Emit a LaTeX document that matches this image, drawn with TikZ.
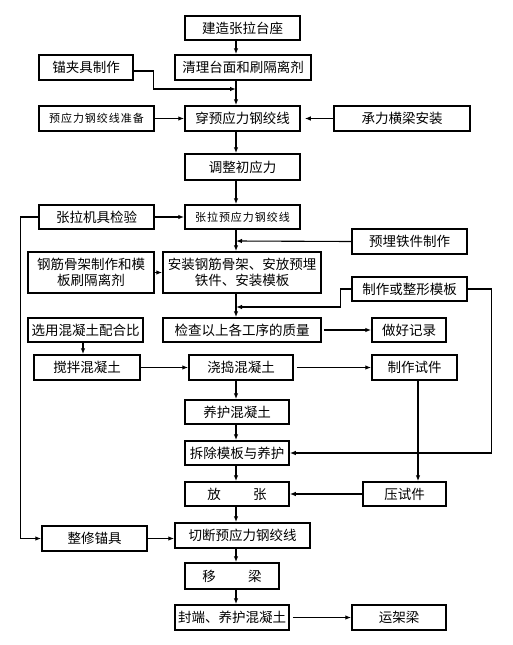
\documentclass[tikz,border=0pt]{standalone}
\usepackage{fontspec}
\newfontfamily\cjk{Noto Sans CJK SC}
\newfontfamily\cjkwide[LetterSpace=9]{Noto Sans CJK SC}
\usepackage{tikz}
\usetikzlibrary{arrows.meta}
\usetikzlibrary{positioning}

\begin{document}
\begin{tikzpicture}[x=1pt,y=-1pt,
		box/.style={draw,line width=1.5pt,inner sep=0pt,align=center,
			font=\cjk\fontsize{13.5}{16}\selectfont},
		thin box/.style={box,font=\cjkwide\fontsize{11}{14}\selectfont},
		arr/.style={line width=1.1pt,-{Latex[length=6pt,width=4.5pt]}},
		link/.style={line width=1.1pt}]
			
			\useasboundingbox (0,0) rectangle (512,645);
			
			\coordinate (axis) at (236,0);
			
			\node[box,minimum width=115,minimum height=24] (jz) at (242.5,28) {建造张拉台座};
			\node[box,minimum width=136,minimum height=25] (ql) at (243,67.5) {清理台面和刷隔离剂};
			\node[box,minimum width=94,minimum height=25] (mj) at (86,67.5) {锚夹具制作};
			\node[thin box,minimum width=115,minimum height=25] (yzb) at (96.5,118.5) {预应力钢绞线准备};
			\node[box,minimum width=115,minimum height=25] (cy) at (242.5,118.5) {穿预应力钢绞线};
			\node[box,minimum width=136,minimum height=25] (cl) at (402,118.5) {承力横梁安装};
			\node[box,minimum width=115,minimum height=26] (tz) at (242.5,167) {调整初应力};
			
			\node[box,minimum width=115,minimum height=24] (jj) at (96.5,217) {张拉机具检验};
			\node[thin box,minimum width=115,minimum height=24] (zl) at (242.5,217) {张拉预应力钢绞线};
			\node[box,minimum width=115,minimum height=25] (ym) at (409.5,241.5) {预埋铁件制作};
			\node[box,minimum width=126,minimum height=41] (gj) at (91,272.5) {钢筋骨架制作和模\\板刷隔离剂};
			\node[box,minimum width=158,minimum height=41] (az) at (242,272.5) {安装钢筋骨架、安放预埋\\铁件、安装模板};
			\node[box,minimum width=115,minimum height=24] (zx) at (409.5,289) {制作或整形模板};
			
			\node[box,minimum width=115,minimum height=24] (xy) at (85.5,330) {选用混凝土配合比};
			\node[box,minimum width=158,minimum height=24] (jc) at (242,330) {检查以上各工序的质量};
			\node[box,minimum width=74,minimum height=24] (jl) at (409,330) {做好记录};
			\node[box,minimum width=106,minimum height=25] (jb) at (87,367.5) {搅拌混凝土};
			\node[box,minimum width=104,minimum height=25] (jd) at (241,367.5) {浇捣混凝土};
			\node[box,minimum width=85,minimum height=25] (sj) at (414.5,367.5) {制作试件};
			\node[box,minimum width=104,minimum height=24] (yh) at (237,412) {养护混凝土};
			\node[box,minimum width=104,minimum height=24] (cc) at (237,453) {拆除模板与养护};
			\node[box,minimum width=104,minimum height=24] (fz) at (237,494) {放\hspace{2.4em}张};
			\node[box,minimum width=83,minimum height=24] (ys) at (404.5,494) {压试件};
			
			\node[box,minimum width=105,minimum height=25] (zm) at (94.5,538.5) {整修锚具};
			\node[box,minimum width=135,minimum height=25] (qd) at (242.5,535.5) {切断预应力钢绞线};
			\node[box,minimum width=94,minimum height=26] (yl) at (232,576) {移\hspace{2.4em}梁};
			\node[box,minimum width=114,minimum height=25] (fd) at (232,617.5) {封端、养护混凝土};
			\node[box,minimum width=94,minimum height=25] (yjl) at (399,617.5) {运架梁};
			
			\coordinate (m1) at (236,89);
			\coordinate (m2) at (236,241);
			\coordinate (m3) at (236,307);
			
			% main line
			\draw[arr] (jz.south -| axis) -- (ql.north -| axis);
			\draw[arr] (ql.south -| axis) -- (cy.north -| axis);
			\draw[arr] (cy.south -| axis) -- (tz.north -| axis);
			\draw[arr] (tz.south -| axis) -- (zl.north -| axis);
			\draw[arr] (zl.south -| axis) -- (az.north -| axis);
			\draw[arr] (az.south -| axis) -- (jc.north -| axis);
			\draw[arr] (jd.south -| axis) -- (yh.north -| axis);
			\draw[arr] (yh.south -| axis) -- (cc.north -| axis);
			\draw[arr] (cc.south -| axis) -- (fz.north -| axis);
			\draw[arr] (fz.south -| axis) -- (qd.north -| axis);
			\draw[arr] (qd.south -| axis) -- (yl.north -| axis);
			\draw[arr] (yl.south -| axis) -- (fd.north -| axis);
			
			% side inputs
			\draw[arr] ([yshift=-3.5pt]mj.east) -- ++(20,0) |- (m1);
			\draw[arr] (yzb) -- (cy);
			\draw[arr,shorten >=4pt] (cl) -- (cy);
			\draw[arr] (jj) -- (zl);
			\draw[arr] (jj.west) -- ++(-18,0) |- (zm.west);
			\draw[arr] (ym.west) -- (m2);
			\draw[arr] (gj) -- (az);
			\draw[arr] (zx.west) -- ++(-11,0) |- (m3);
			\draw[arr] (zx.east) -- ++(24,0) |- (cc.east);
			\draw[arr,shorten <=2pt] (jc) -- (jl);
			\draw[arr] (xy.south -| 83,0) -- (jb.north -| 83,0);
			\draw[arr] (jb) -- (jd);
			\draw[arr,shorten <=3pt] (jd) -- (sj);
			\draw[arr] (sj.south -| 418,0) -- (ys.north -| 418,0);
			\draw[arr] (ys) -- (fz);
			\draw[arr] (zm.east) -- (zm.east -| qd.west);
			\draw[arr,shorten <=3pt] (fd) -- (yjl);
			
		\end{tikzpicture}
\end{document}
